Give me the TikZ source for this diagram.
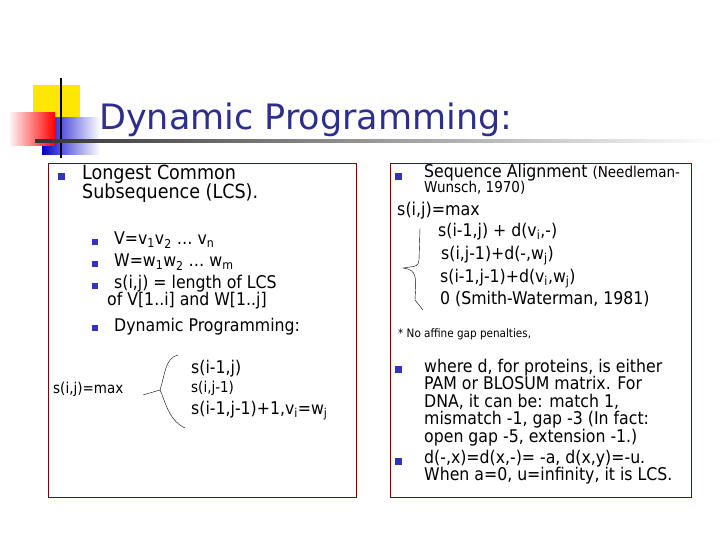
\documentclass[tikz,border=0pt]{standalone}
\usepackage{fontspec}
\setmainfont{DejaVu Sans}
\newfontfamily\cond{DejaVu Sans Condensed}
\begin{document}
\begin{tikzpicture}[x=1pt,y=-1pt,
  txt/.style={anchor=north west,inner sep=0pt,align=left,font=\cond\fontsize{17.5}{17.5}\selectfont},
  small/.style={anchor=north west,inner sep=0pt,align=left,font=\cond\fontsize{15}{16}\selectfont},
  bul/.style={fill=blue!70!black!80,minimum size=7pt,inner sep=0pt},
  box/.style={draw=red!50!black,line width=0.6pt}]
\definecolor{ttl}{RGB}{46,46,140}
\useasboundingbox (0,0) rectangle (720,540);
% logo
\fill[yellow!90!orange] (33,85) rectangle (80,130);
\shade[left color=blue!80!black,right color=white] (42,118) rectangle (100,155);
\shade[left color=red!5,right color=red] (10,113) rectangle (55,146);
\draw[line width=1.5pt] (61,78) -- (61,158);
\shade[left color=black!80,right color=white] (35,140) rectangle (720,142.5);
\node[anchor=base west,inner sep=0pt,text=ttl,font=\fontsize{35}{36}\selectfont] (title) at (99,130) {Dynamic Programming:};
% boxes
\draw[box] (48,163) rectangle (356,497);
\draw[box] (390,163) rectangle (691,497);
% left
\node[bul] (b1) at (61,177) {};
\node[txt,font=\cond\fontsize{19.5}{19}\selectfont] (t1) at (82,165) {Longest Common\\Subsequence (LCS).};
\node[bul,minimum size=6pt] (b2) at (95,242) {};
\node[bul,minimum size=6pt] (b3) at (95,264) {};
\node[bul,minimum size=6pt] (b4) at (95,286) {};
\node[bul,minimum size=6pt] (b5) at (95,328) {};
\node[txt] (t2) at (114,232) {V=v\textsubscript{1}v\textsubscript{2} … v\textsubscript{n}};
\node[txt] (t3) at (114,254) {W=w\textsubscript{1}w\textsubscript{2} … w\textsubscript{m}};
\node[txt] (t4) at (107,275) {\hspace*{7pt}s(i,j) = length of LCS\\of V[1..i] and W[1..j]};
\node[txt] (t5) at (114,318) {Dynamic Programming:};
\node[small] (m1) at (53,382) {s(i,j)=max};
\node[txt] (r1) at (191,360) {s(i-1,j)};
\node[small] (r2) at (191,381) {s(i,j-1)};
\node[txt] (r3) at (191,401) {s(i-1,j-1)+1,v\textsubscript{i}=w\textsubscript{j}};
\draw (178,355) .. controls (165,358) and (165,375) .. (160,390) .. controls (165,400) and (168,420) .. (185,428);
\draw (143,395) -- (160,390);
% right
\node[bul] (b6) at (398,177) {};
\node[txt] (t6) at (424,164) {Sequence Alignment {\fontsize{15}{15}\selectfont (Needleman-}\\[-2pt]{\fontsize{15}{15}\selectfont Wunsch, 1970)}};
\node[txt,font=\cond\fontsize{17.7}{17}\selectfont] (s) at (397,202) {s(i,j)=max};
\node[txt] (u1) at (438,223) {s(i-1,j) + d(v\textsubscript{i},-)};
\node[txt] (u2) at (441,246) {s(i,j-1)+d(-,w\textsubscript{j})};
\node[txt] (u3) at (440,269) {s(i-1,j-1)+d(v\textsubscript{i},w\textsubscript{j})};
\node[txt] (u4) at (440,291) {0 (Smith-Waterman, 1981)};
\draw (420,228) -- (419,260) .. controls (418,266) .. (403,268) .. controls (418,270) and (416,278) .. (415,300) -- (423,310);
\node[small,font=\cond\fontsize{11.6}{12}\selectfont] (note) at (398,328) {* No affine gap penalties,};
\node[bul] (b7) at (398,369) {};
\node[txt] (t7) at (424,359) {where d, for proteins, is either\\PAM or BLOSUM matrix. For\\DNA, it can be: match 1,\\mismatch -1, gap -3 (In fact:\\open gap -5, extension -1.)};
\node[bul] (b8) at (398,461) {};
\node[txt] (t8) at (424,450) {d(-,x)=d(x,-)= -a, d(x,y)=-u.\\When a=0, u=infinity, it is LCS.};
\end{tikzpicture}
\end{document}
